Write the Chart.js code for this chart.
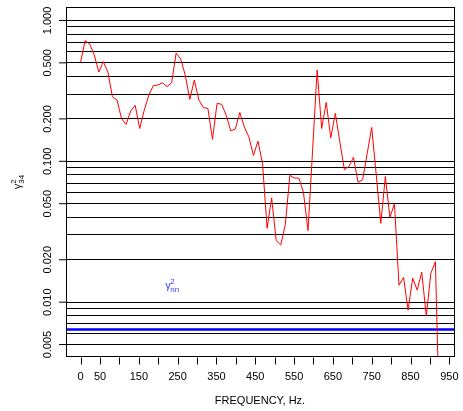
<!DOCTYPE html>
<html>
<head>
<meta charset="utf-8">
<script src="https://cdn.jsdelivr.net/npm/chart.js@4"></script>
<style>
  html, body { margin: 0; padding: 0; background: #fff; }
  canvas { display: block; }
</style>
</head>
<body>
<canvas id="chart" width="463" height="411"></canvas>
<script>
// Frequencies (Hz) of the coherence estimates
const freqs = [
  0, 11.7, 23.4, 35.2, 46.9, 58.6, 70.3, 82.0, 93.8, 105.5,
  117.2, 128.9, 140.6, 152.3, 164.1, 175.8, 187.5, 199.2, 210.9, 222.7,
  234.4, 246.1, 257.8, 269.5, 281.3, 293.0, 304.7, 316.4, 328.1, 339.8,
  351.6, 363.3, 375.0, 386.7, 398.4, 410.2, 421.9, 433.6, 445.3, 457.0,
  468.8, 480.5, 492.2, 503.9, 515.6, 527.3, 539.1, 550.8, 562.5, 574.2,
  585.9, 597.7, 609.4, 621.1, 632.8, 644.5, 656.3, 668.0, 679.7, 691.4,
  703.1, 714.8, 726.6, 738.3, 750.0, 761.7, 773.4, 785.2, 796.9, 808.6,
  820.3, 832.0, 843.8, 855.5, 867.2, 878.9, 890.6, 902.3, 914.1, 925.8
];

// Coherence gamma^2_34 (last value falls below the plot)
const coherence = [
  0.505, 0.72, 0.68, 0.57, 0.43, 0.51, 0.43, 0.287, 0.272, 0.201,
  0.183, 0.227, 0.25, 0.171, 0.231, 0.295, 0.345, 0.348, 0.361, 0.339,
  0.361, 0.586, 0.533, 0.41, 0.275, 0.378, 0.272, 0.241, 0.237, 0.143,
  0.258, 0.254, 0.213, 0.165, 0.169, 0.222, 0.175, 0.149, 0.110, 0.139,
  0.096, 0.0335, 0.055, 0.0274, 0.0255, 0.0354, 0.0795, 0.076, 0.076, 0.060,
  0.0322, 0.12, 0.445, 0.171, 0.262, 0.147, 0.219, 0.137, 0.087, 0.092,
  0.107, 0.071, 0.074, 0.113, 0.174, 0.08, 0.0363, 0.078, 0.040, 0.050,
  0.0132, 0.0150, 0.00877, 0.0148, 0.0122, 0.0163, 0.00798, 0.0160, 0.0194, 0.001
];

// Noise coherence level gamma^2_nn
const noiseLevel = 0.0064;

// Axis settings
const xMin = -37.6, xMax = 962;
const yMin = 0.0041, yMax = 1.24;
const xTicks = [0, 50, 100, 150, 200, 250, 300, 350, 400, 450, 500, 550, 600, 650, 700, 750, 800, 850, 900, 950];
const xTickLabels = [0, 50, 150, 250, 350, 450, 550, 650, 750, 850, 950];
const yGrid = [1, 0.9, 0.8, 0.7, 0.6, 0.5, 0.4, 0.3, 0.2, 0.1, 0.09, 0.08, 0.07, 0.06, 0.05,
  0.04, 0.03, 0.02, 0.01, 0.009, 0.008, 0.007, 0.006, 0.005];
const yTickLabels = ['1.000', '0.500', '0.200', '0.100', '0.050', '0.020', '0.010', '0.005'];

const FONT = '"Liberation Sans", Arial, Helvetica, sans-serif';

// draws the frame, axes ticks/labels (R style) and the gamma annotations
const decor = {
  id: 'decor',
  afterDraw(chart) {
    const { ctx, chartArea: a, scales: { x, y } } = chart;
    ctx.save();
    ctx.strokeStyle = '#000';
    ctx.lineWidth = 1;
    ctx.strokeRect(Math.round(a.left) + 0.5, Math.round(a.top) + 0.5,
      Math.round(a.right - a.left), Math.round(a.bottom - a.top));

    ctx.fillStyle = '#000';
    ctx.font = '11px ' + FONT;

    // x ticks + labels
    const by = Math.round(a.bottom) + 0.5;
    xTicks.forEach(v => {
      const px = Math.round(x.getPixelForValue(v)) + 0.5;
      ctx.beginPath();
      ctx.moveTo(px, by);
      ctx.lineTo(px, by + 7);
      ctx.stroke();
    });
    ctx.textAlign = 'center';
    ctx.textBaseline = 'middle';
    xTickLabels.forEach(v => {
      ctx.fillText(String(v), x.getPixelForValue(v), 377);
    });
    ctx.fillText('FREQUENCY, Hz.', (a.left + a.right) / 2, 401);

    // y ticks + rotated labels
    yTickLabels.forEach(lbl => {
      const py = y.getPixelForValue(parseFloat(lbl));
      ctx.beginPath();
      ctx.moveTo(a.left - 7, py);
      ctx.lineTo(a.left, py);
      ctx.stroke();
      ctx.save();
      ctx.translate(47.5, py);
      ctx.rotate(-Math.PI / 2);
      ctx.fillText(lbl, 0, 0);
      ctx.restore();
    });

    // y axis title: gamma^2_34
    ctx.save();
    ctx.translate(21, (a.top + a.bottom) / 2);
    ctx.rotate(-Math.PI / 2);
    ctx.textAlign = 'left';
    ctx.textBaseline = 'alphabetic';
    ctx.font = '11px ' + FONT;
    const gw = ctx.measureText('γ').width;
    ctx.font = '8px ' + FONT;
    const sw = ctx.measureText('34').width;
    const x0 = -(gw + sw) / 2;
    ctx.font = '11px ' + FONT;
    ctx.fillText('γ', x0, 0);
    ctx.font = '8px ' + FONT;
    ctx.fillText('2', x0 + gw, -5);
    ctx.fillText('34', x0 + gw, 3);
    ctx.restore();

    // noise label gamma^2_nn
    const lx = x.getPixelForValue(218), ly = y.getPixelForValue(0.0125);
    ctx.textAlign = 'left';
    ctx.textBaseline = 'alphabetic';
    ctx.fillStyle = '#3c3cff';
    ctx.font = '11px ' + FONT;
    ctx.fillText('γ', lx, ly);
    const w = ctx.measureText('γ').width;
    ctx.font = '8px ' + FONT;
    ctx.fillText('2', lx + w - 0.5, ly - 4.5);
    ctx.fillText('nn', lx + w - 0.5, ly + 3.5);
    ctx.restore();
  }
};

const ctx = document.getElementById('chart').getContext('2d');
new Chart(ctx, {
  type: 'line',
  data: {
    datasets: [{
      data: freqs.map((f, i) => ({ x: f, y: coherence[i] })),
      borderColor: '#ff0000',
      borderWidth: 1,
      pointRadius: 0,
      tension: 0
    }, {
      data: [{ x: xMin, y: noiseLevel }, { x: xMax, y: noiseLevel }],
      borderColor: '#0000ff',
      borderWidth: 2.5,
      pointRadius: 0
    }]
  },
  plugins: [decor],
  options: {
    responsive: false,
    animation: false,
    devicePixelRatio: 1,
    layout: { padding: { left: 66, right: 9, top: 7.3, bottom: 54.3 } },
    plugins: { legend: { display: false }, tooltip: { enabled: false } },
    scales: {
      x: {
        type: 'linear',
        min: xMin,
        max: xMax,
        afterBuildTicks: s => { s.ticks = xTicks.map(v => ({ value: v })); },
        ticks: { display: false },
        grid: { display: false, drawTicks: false },
        border: { display: false }
      },
      y: {
        type: 'logarithmic',
        min: yMin,
        max: yMax,
        afterBuildTicks: s => { s.ticks = yGrid.map(v => ({ value: v })); },
        ticks: { display: false },
        grid: { color: '#000', lineWidth: 1, drawTicks: false },
        border: { display: false }
      }
    }
  }
});
</script>
</body>
</html>
